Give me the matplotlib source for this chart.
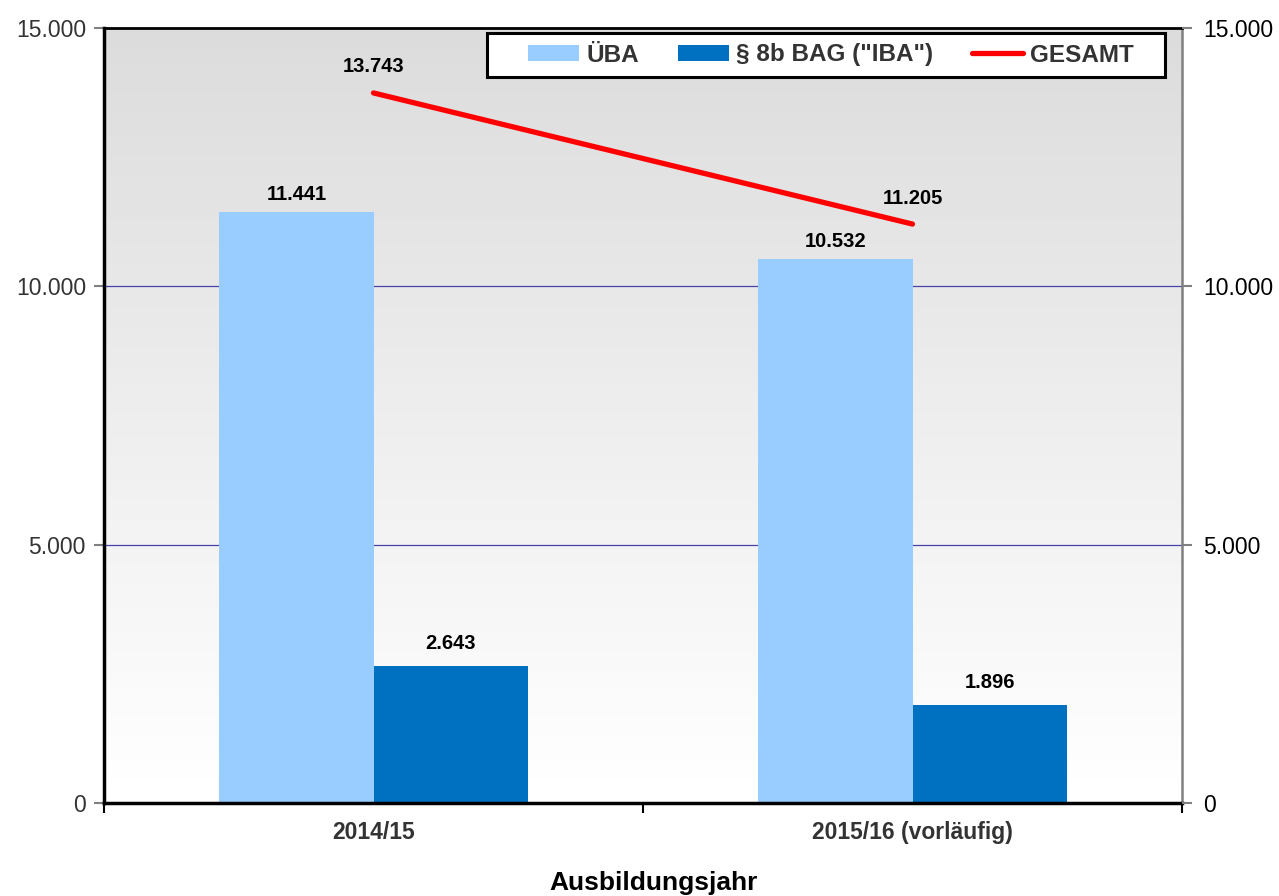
import matplotlib
matplotlib.use("Agg")
import matplotlib.pyplot as plt
import numpy as np
from matplotlib.patches import Patch, Rectangle
from matplotlib.lines import Line2D

plt.rcParams['font.family'] = ['Liberation Sans', 'DejaVu Sans']

categories = ["2014/15", "2015/16 (vorläufig)"]
uba = [11441, 10532]
iba = [2643, 1896]
gesamt = [13743, 11205]
series_names = ["ÜBA", '§ 8b BAG ("IBA")', "GESAMT"]
yticks = [0, 5000, 10000, 15000]
ytick_labels = ["0", "5.000", "10.000", "15.000"]
xlabel = "Ausbildungsjahr"

def fmt(v):
    return f"{v:,}".replace(",", ".")

W, H = 1279, 896
fig = plt.figure(figsize=(W / 100, H / 100), dpi=100)
ax = fig.add_axes([104 / W, 1 - 803 / H, (1182 - 104) / W, (803 - 28) / H])

x = np.arange(len(categories))
bw = 0.286

# gradient background (gray at top, white at bottom)
grad = np.linspace(0.86, 1.0, 256).reshape(-1, 1)
ax.imshow(grad, extent=[-0.5, 1.5, 0, 15000], aspect='auto', cmap='gray',
          vmin=0, vmax=1, zorder=0, origin='upper')

for yv in [5000, 10000]:
    ax.axhline(yv, color='#4444aa', lw=0.9, zorder=1)

ax.bar(x - bw / 2, uba, bw, color='#99ccff', zorder=2)
ax.bar(x + bw / 2, iba, bw, color='#0070c0', zorder=2)
ax.plot(x, gesamt, color='#ff0000', lw=3.8, solid_capstyle='round', zorder=3)

lab_kw = dict(ha='center', va='center', fontsize=14.5, fontweight='bold', color='black', zorder=5)
for i in range(len(categories)):
    ax.annotate(fmt(uba[i]), (x[i] - bw / 2, uba[i]), xytext=(0, 17), textcoords='offset pixels', **lab_kw)
    ax.annotate(fmt(iba[i]), (x[i] + bw / 2, iba[i]), xytext=(0, 23), textcoords='offset pixels', **lab_kw)
    ax.annotate(fmt(gesamt[i]), (x[i], gesamt[i]), xytext=(0, 26), textcoords='offset pixels', **lab_kw)

ax.set_xlim(-0.5, 1.5)
ax.set_ylim(0, 15000)

ax.set_xticks([-0.5, 0.5, 1.5])
ax.set_xticklabels([])
ax.set_xticks(x, minor=True)
ax.set_xticklabels(categories, minor=True, fontsize=16.5, fontweight='bold', color='#333333')
ax.tick_params(axis='x', which='major', direction='out', length=7, width=1.5, color='black')
ax.tick_params(axis='x', which='minor', length=0, pad=13)

ax.set_yticks(yticks)
ax.set_yticklabels(ytick_labels, fontsize=16.5, color='#333333')
ax.tick_params(axis='y', direction='out', length=7, width=1.5, color='#808080', pad=6)

ax.spines['left'].set_linewidth(2.5)
ax.spines['left'].set_color('black')
ax.spines['bottom'].set_linewidth(2.5)
ax.spines['bottom'].set_color('black')
ax.spines['top'].set_linewidth(2.0)
ax.spines['top'].set_color('black')
ax.spines['right'].set_linewidth(1.8)
ax.spines['right'].set_color('#808080')

ax2 = ax.twinx()
ax2.set_ylim(0, 15000)
ax2.set_yticks(yticks)
ax2.set_yticklabels(ytick_labels, fontsize=16.5, color='black')
ax2.tick_params(axis='y', direction='out', length=7, width=1.5, color='#808080', pad=8)
for s in ax2.spines.values():
    s.set_visible(False)

fig.text(654 / W, 1 - 883 / H, xlabel, ha='center', va='center', fontsize=19, fontweight='bold', color='black')

# legend frame
fig.patches.append(Rectangle((487 / W, 1 - 77 / H), (1165 - 487) / W, 44 / H,
                             transform=fig.transFigure, facecolor='white',
                             edgecolor='black', lw=2.2, zorder=9))

handles = [Patch(facecolor='#99ccff', edgecolor='none'),
           Patch(facecolor='#0070c0', edgecolor='none'),
           Line2D([0], [0], color='#ff0000', lw=3.8, solid_capstyle='round')]
leg = fig.legend(handles, series_names, ncol=3, loc='center left',
                 bbox_to_anchor=(528 / W, 1 - 77 / H, (1134 - 528) / W, 44 / H),
                 mode='expand', frameon=False,
                 borderpad=0, handlelength=2.1, handleheight=0.6, handletextpad=0.3,
                 columnspacing=1.6, borderaxespad=0,
                 prop={'size': 17.5, 'weight': 'bold'})
for t in leg.get_texts():
    t.set_color('#333333')
leg.set_zorder(10)

fig.savefig("out.png", dpi=100)
